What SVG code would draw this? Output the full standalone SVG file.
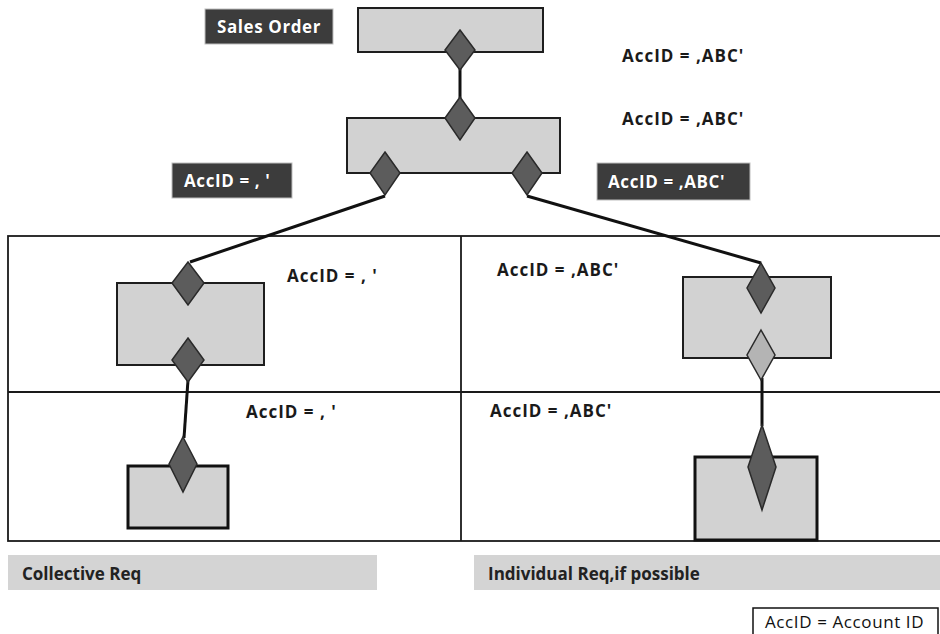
<svg xmlns="http://www.w3.org/2000/svg" width="940" height="634" viewBox="0 0 940 634">
  <defs>
    <style>
      .box { fill: #d2d2d2; stroke: #1e1e1e; stroke-width: 2; }
      .box-heavy { fill: #d2d2d2; stroke: #111; stroke-width: 3; }
      .dia { fill: #5c5c5c; stroke: #2a2a2a; stroke-width: 1.5; }
      .dia-light { fill: #b4b4b4; stroke: #2a2a2a; stroke-width: 1.5; }
      .link { stroke: #111; stroke-width: 3; fill: none; }
      .grid { stroke: #1a1a1a; stroke-width: 1.8; fill: none; }
      .tag { fill: #3c3c3c; stroke: #bdbdbd; stroke-width: 1; }
      .tag-text { font-family: "Open Sans", "Liberation Sans", sans-serif; font-weight: 700; font-size: 17px; letter-spacing: 0.6px; fill: #fff; stroke: #222; stroke-width: 0.6; paint-order: stroke; }
      .lbl { font-family: "Open Sans", "Liberation Sans", sans-serif; font-weight: 700; font-size: 17px; letter-spacing: 1px; fill: #1a1a1a; }
      .band { fill: #d4d4d4; }
      .band-text { font-family: "Open Sans", "Liberation Sans", sans-serif; font-weight: 700; font-size: 17px; fill: #222; }
      .legend { fill: #fff; stroke: #111; stroke-width: 1.5; }
      .legend-text { font-family: "Open Sans", "Liberation Sans", sans-serif; font-size: 17px; letter-spacing: 0.6px; fill: #111; }
    </style>
  </defs>

  <!-- table frame: two columns, two rows -->
  <g id="table">
    <rect class="grid" x="8" y="236" width="940" height="305"/>
    <line class="grid" x1="461" y1="236" x2="461" y2="541"/>
    <line class="grid" x1="8" y1="392" x2="940" y2="392"/>
  </g>

  <!-- connectors -->
  <g id="connectors">
    <line class="link" x1="460" y1="68" x2="460" y2="98"/>
    <line class="link" x1="385" y1="196" x2="190" y2="262"/>
    <line class="link" x1="527" y1="196" x2="761" y2="263"/>
    <line class="link" x1="188" y1="380" x2="184" y2="438"/>
    <line class="link" x1="762" y1="378" x2="762" y2="426"/>
  </g>

  <g id="sales-order-tag">
    <rect class="tag" x="205" y="9" width="128" height="35"/>
    <text class="tag-text" x="269" y="33" text-anchor="middle">Sales Order</text>
  </g>

  <g id="sales-order">
    <rect class="box" x="358" y="8" width="185" height="44"/>
    <polygon class="dia" points="460,30 475,50 460,70 445,50"/>
  </g>

  <text class="lbl" x="622" y="62">AccID = ,ABC'</text>
  <text class="lbl" x="622" y="125">AccID = ,ABC'</text>

  <g id="schedule">
    <rect class="box" x="347" y="118" width="213" height="55"/>
    <polygon class="dia" points="460,97 475,118 460,140 445,118"/>
    <polygon class="dia" points="385,152 400,173 385,195 370,173"/>
    <polygon class="dia" points="527,152 542,173 527,195 512,173"/>
  </g>

  <g id="tag-empty">
    <rect class="tag" x="172" y="163" width="120" height="35"/>
    <text class="tag-text" x="184" y="187">AccID = , '</text>
  </g>

  <g id="tag-abc">
    <rect class="tag" x="597" y="163" width="153" height="37"/>
    <text class="tag-text" x="608" y="188">AccID = ,ABC'</text>
  </g>

  <text class="lbl" x="287" y="282">AccID = ,  '</text>
  <text class="lbl" x="497" y="276">AccID = ,ABC'</text>
  <text class="lbl" x="246" y="418">AccID = , '</text>
  <text class="lbl" x="490" y="417">AccID = ,ABC'</text>

  <g id="collective-item">
    <rect class="box" x="117" y="283" width="147" height="82"/>
    <polygon class="dia" points="188,262 204,283 188,305 172,283"/>
    <polygon class="dia" points="188,338 204,360 188,382 172,360"/>
  </g>

  <g id="individual-item">
    <rect class="box" x="683" y="277" width="148" height="81"/>
    <polygon class="dia" points="761,263 775,288 761,313 747,288"/>
    <polygon class="dia-light" points="761,330 775,355 761,380 747,355"/>
  </g>

  <g id="collective-req">
    <rect class="box-heavy" x="128" y="466" width="100" height="62"/>
    <polygon class="dia" points="183,437 197,464 183,492 169,464"/>
  </g>

  <g id="individual-req">
    <rect class="box-heavy" x="695" y="457" width="122" height="83"/>
    <polygon class="dia" points="762,425 776,467 762,510 748,467"/>
  </g>

  <g id="band-collective">
    <rect class="band" x="8" y="555" width="369" height="35"/>
    <text class="band-text" x="22" y="580">Collective Req</text>
  </g>

  <g id="band-individual">
    <rect class="band" x="474" y="555" width="466" height="35"/>
    <text class="band-text" x="488" y="580">Individual Req,if possible</text>
  </g>

  <g id="legend">
    <rect class="legend" x="753" y="608" width="185" height="30"/>
    <text class="legend-text" x="765" y="628">AccID = Account ID</text>
  </g>
</svg>
